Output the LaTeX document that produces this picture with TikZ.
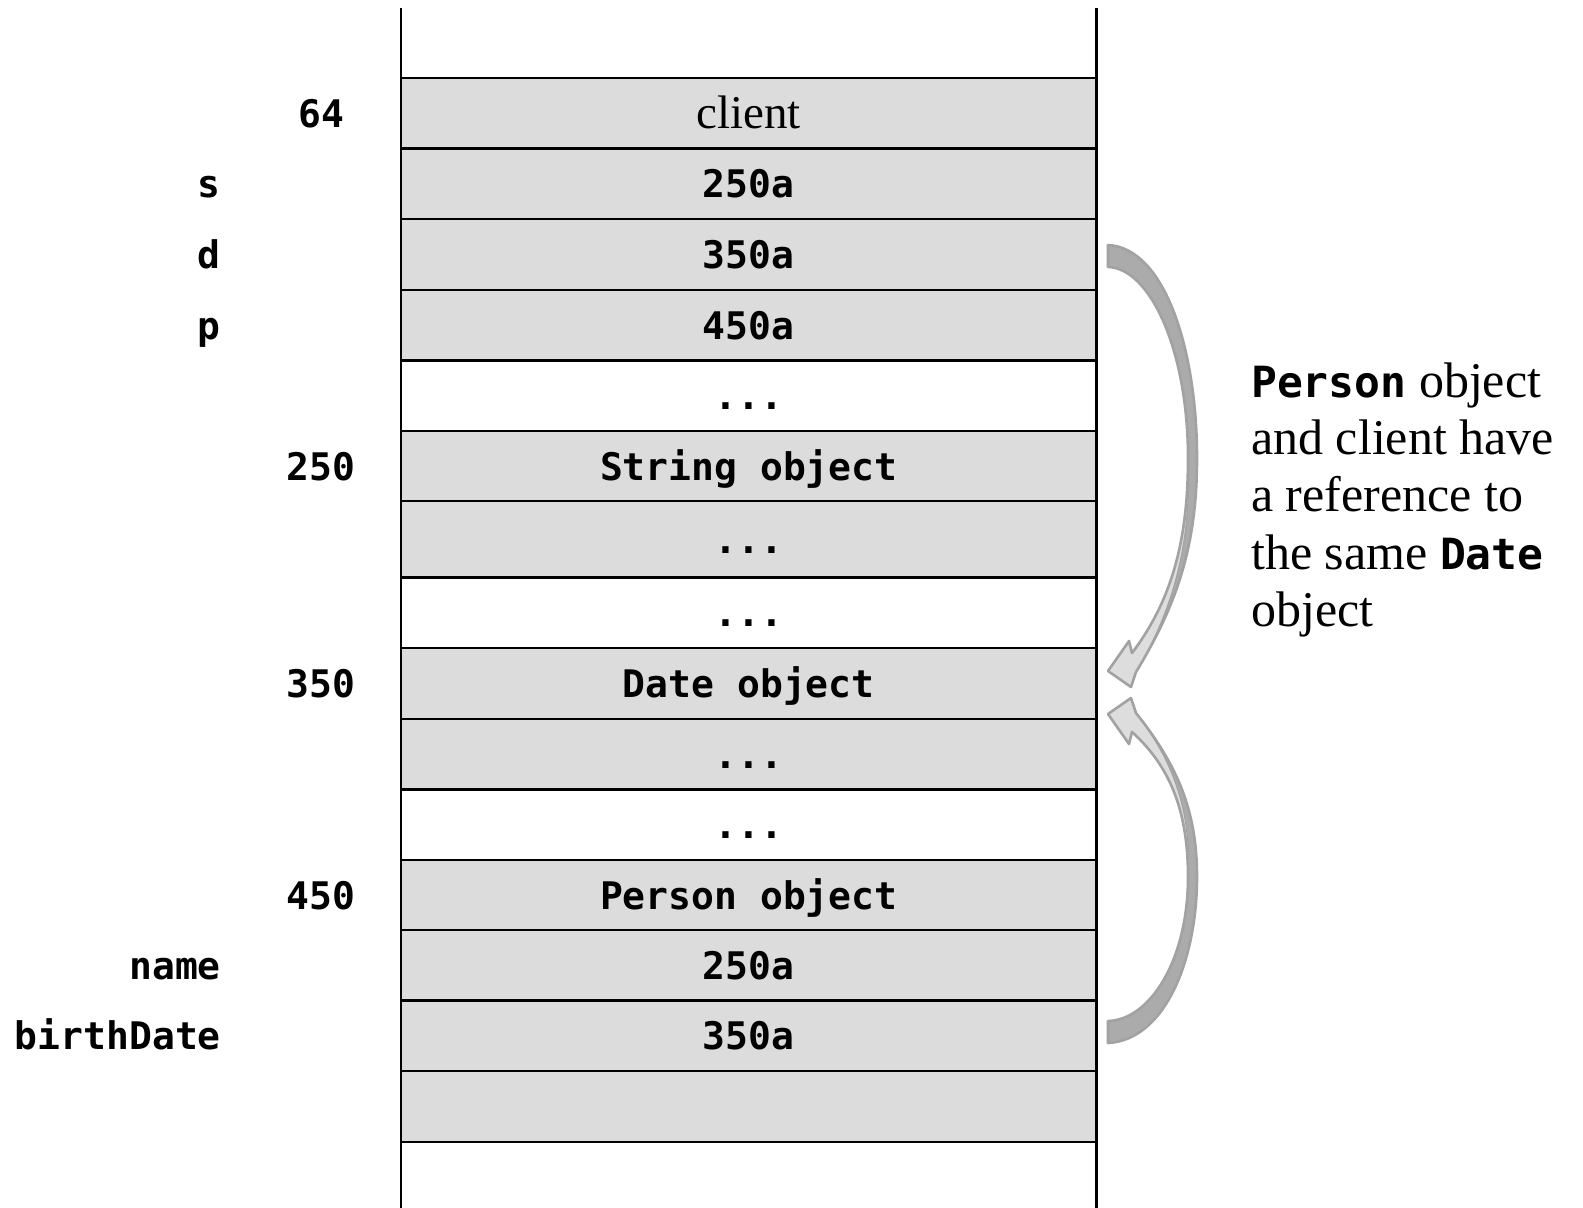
\documentclass[tikz,border=0pt]{standalone}
\usepackage{fontspec}
\setmainfont{Liberation Serif}
\newfontfamily\codefont{DejaVu Sans Mono}
\definecolor{cellgray}{HTML}{DCDCDC}
\definecolor{bandlight}{HTML}{DDDDDD}
\definecolor{banddark}{HTML}{ABABAB}
\definecolor{bandline}{HTML}{A2A2A2}
\newcommand\notecode[1]{{\codefont\bfseries\fontsize{43}{50}\selectfont #1}}
\begin{document}
\begin{tikzpicture}[x=1pt,y=-1pt,
  rowline/.style={line width=2.3pt,black},
  celltext/.style={anchor=base,inner sep=0pt,font=\codefont\bfseries\fontsize{38}{44}\selectfont},
  seriftext/.style={anchor=base,inner sep=0pt,font=\fontsize{47}{57}\selectfont},
  addr/.style={anchor=base,inner sep=0pt,font=\codefont\bfseries\fontsize{38}{44}\selectfont},
  varname/.style={anchor=base east,inner sep=0pt,font=\codefont\bfseries\fontsize{38}{44}\selectfont},
  notetext/.style={anchor=base west,inner sep=0pt,font=\fontsize{50}{57}\selectfont},
  bandback/.style={fill=banddark},
  bandfront/.style={fill=bandlight},
  bandedge/.style={draw=bandline,line width=2.6pt,line join=round},
  bandfold/.style={draw=bandline,line width=1.2pt}]
\useasboundingbox (0,0) rectangle (1583,1208);

% shaded memory cells
\fill[cellgray] (401,77.7) rectangle (1096.5,360.4);
\fill[cellgray] (401,431.1) rectangle (1096.5,577.5);
\fill[cellgray] (401,648.2) rectangle (1096.5,789.5);
\fill[cellgray] (401,860.2) rectangle (1096.5,1141.8);

% cell borders
\foreach \yy in {77.7,148.4,219.1,289.8,360.4,431.1,500.8,577.5,648.2,718.8,789.5,860.2,929.8,1000.5,1071.2,1141.8}
  \draw[rowline] (401,\yy) -- (1096.5,\yy);
\draw[rowline] (401,8) -- (401,1208);
\draw[rowline] (1096.5,8) -- (1096.5,1208);

% cell contents
\node[seriftext] (c1) at (748.7,128) {client};
\node[celltext] (c2) at (748.7,197.8) {250a};
\node[celltext] (c3) at (748.7,268.5) {350a};
\node[celltext] (c4) at (748.7,339.1) {450a};
\node[celltext] (c5) at (748.7,409.8) {...};
\node[celltext] (c6) at (748.7,480) {String object};
\node[celltext] (c7) at (748.7,553.2) {...};
\node[celltext] (c8) at (748.7,626.9) {...};
\node[celltext] (c9) at (748.7,697.5) {Date object};
\node[celltext] (c10) at (748.7,768.2) {...};
\node[celltext] (c11) at (748.7,838.9) {...};
\node[celltext] (c12) at (748.7,909) {Person object};
\node[celltext] (c13) at (748.7,979.2) {250a};
\node[celltext] (c14) at (748.7,1049.9) {350a};

% addresses
\node[addr] (a64) at (321,127) {64};
\node[addr] (a250) at (321,480) {250};
\node[addr] (a350) at (321,697.5) {350};
\node[addr] (a450) at (321,909) {450};

% variable names
\node[varname] (vs) at (221,197.8) {s};
\node[varname] (vd) at (221,268.5) {d};
\node[varname] (vp) at (221,339.1) {p};
\node[varname] (vname) at (221,979.2) {name};
\node[varname] (vbirth) at (221,1049.9) {birthDate};

% note
\node[notetext] (n1) at (1251,397) {\notecode{Person} object};
\node[notetext] (n2) at (1251,454.4) {and client have};
\node[notetext] (n3) at (1251,511.8) {a reference to};
\node[notetext] (n4) at (1251,569.2) {the same \notecode{Date}};
\node[notetext] (n5) at (1251,626.6) {object};

% curved block arrow from d down to the Date object
\path[bandback] (1108,245) .. controls (1165,248) and (1197,350) .. (1197,458)
  .. controls (1197,540) and (1180,600) .. (1136,672) -- (1131,687) -- (1108,671)
  -- (1129,641) -- (1132,653) .. controls (1172,600) and (1188,540) .. (1188,458)
  .. controls (1188,350) and (1150,268) .. (1108,267) -- cycle;
\path[bandfront] (1188,458) .. controls (1188,540) and (1172,600) .. (1132,653)
  -- (1129,641) -- (1108,671) -- (1131,687) -- (1136,672)
  .. controls (1172,612) and (1192,545) .. (1188,458) -- cycle;
\draw[bandfold] (1136,672) .. controls (1172,612) and (1192,545) .. (1188,458);
\path[bandedge] (1108,245) .. controls (1165,248) and (1197,350) .. (1197,458)
  .. controls (1197,540) and (1180,600) .. (1136,672) -- (1131,687) -- (1108,671)
  -- (1129,641) -- (1132,653) .. controls (1172,600) and (1188,540) .. (1188,458)
  .. controls (1188,350) and (1150,268) .. (1108,267) -- cycle;

% curved block arrow from birthDate up to the Date object
\path[bandback] (1108,1043) .. controls (1165,1040) and (1197,960) .. (1197,877)
  .. controls (1197,814.5) and (1180,768) .. (1136,713) -- (1131,698) -- (1108,714)
  -- (1129,744) -- (1132,732) .. controls (1172,768) and (1188,814.5) .. (1188,877)
  .. controls (1188,960) and (1150,1020) .. (1108,1021) -- cycle;
\path[bandfront] (1188,877) .. controls (1188,814.5) and (1172,768) .. (1132,732)
  -- (1129,744) -- (1108,714) -- (1131,698) -- (1136,713)
  .. controls (1172,759) and (1192,810) .. (1188,877) -- cycle;
\draw[bandfold] (1136,713) .. controls (1172,759) and (1192,810) .. (1188,877);
\path[bandedge] (1108,1043) .. controls (1165,1040) and (1197,960) .. (1197,877)
  .. controls (1197,814.5) and (1180,768) .. (1136,713) -- (1131,698) -- (1108,714)
  -- (1129,744) -- (1132,732) .. controls (1172,768) and (1188,814.5) .. (1188,877)
  .. controls (1188,960) and (1150,1020) .. (1108,1021) -- cycle;
\end{tikzpicture}
\end{document}
